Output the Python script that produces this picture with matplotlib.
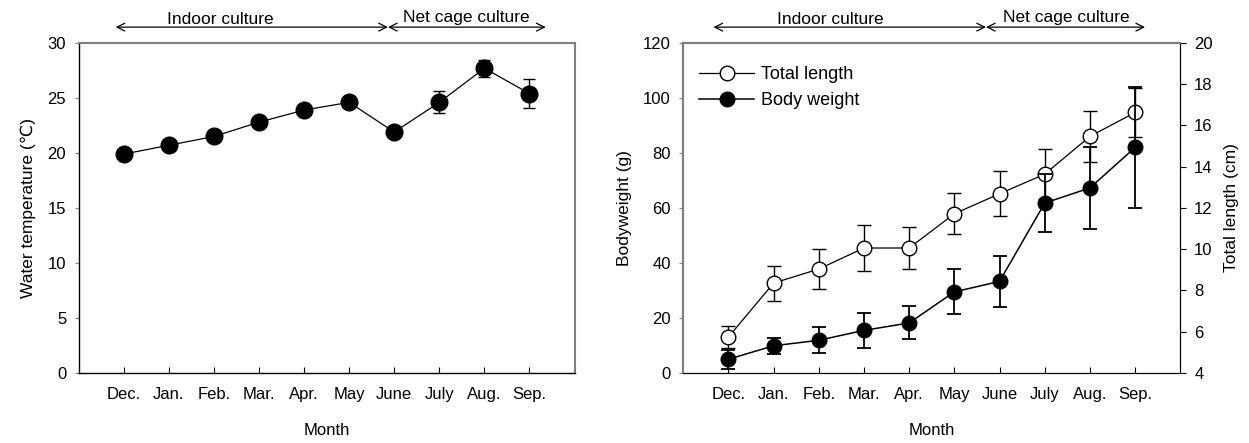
import matplotlib
matplotlib.use("Agg")
import matplotlib.pyplot as plt
from matplotlib.lines import Line2D
import numpy as np

plt.rcParams['font.family'] = ['Liberation Sans', 'DejaVu Sans']

months = ["Dec.", "Jan.", "Feb.", "Mar.", "Apr.", "May", "June", "July", "Aug.", "Sep."]
water_temp = [19.9, 20.7, 21.5, 22.8, 23.9, 24.6, 21.9, 24.6, 27.7, 25.4]
water_temp_err = [0.3, 0.3, 0.3, 0.3, 0.3, 0.3, 0.3, 1.0, 0.75, 1.3]

body_weight = [5.0, 9.9, 11.9, 15.5, 18.2, 29.5, 33.3, 61.8, 67.3, 82.0]
body_weight_err = [3.5, 2.9, 4.8, 6.4, 6.0, 8.2, 9.3, 10.5, 14.8, 22.0]
total_length = [5.74, 8.36, 9.04, 10.06, 10.06, 11.72, 12.69, 13.64, 15.47, 16.63]
total_length_err = [0.55, 0.85, 0.95, 1.1, 1.0, 1.0, 1.1, 1.2, 1.24, 1.2]

x = np.arange(len(months))
GRAY = "#7f7f7f"

fig = plt.figure(figsize=(12.49, 4.43), dpi=100)
ax1 = fig.add_axes([0.063, 0.158, 0.397, 0.745])
ax2 = fig.add_axes([0.547, 0.158, 0.398, 0.745])

# ---------------- Left panel ----------------
ax1.errorbar(x, water_temp, yerr=water_temp_err, fmt='-o', color='black',
             markersize=12, linewidth=0.9, elinewidth=1.0, capsize=4, capthick=1.0,
             markerfacecolor='black', markeredgecolor='black', zorder=3)
ax1.set_xlim(-1, 10)
ax1.set_ylim(0, 30)
ax1.set_yticks(np.arange(0, 31, 5))
ax1.set_xticks(x)
ax1.set_xticklabels(months)
ax1.set_ylabel("Water temperature (\u2103)", fontsize=12.5, labelpad=8)
ax1.set_xlabel("Month", fontsize=12, labelpad=15)
for s in ['top', 'right']:
    ax1.spines[s].set_color(GRAY)
    ax1.spines[s].set_linewidth(1.5)
for s in ['left', 'bottom']:
    ax1.spines[s].set_color('black')
    ax1.spines[s].set_linewidth(1.0)
ax1.tick_params(axis='x', direction='in', length=4, labelsize=12, pad=10, color='black')
ax1.tick_params(axis='y', direction='out', length=3, labelsize=12, pad=6, color=GRAY)

# ---------------- Right panel ----------------
ax3 = ax2.twinx()
ax2.errorbar(x, body_weight, yerr=body_weight_err, fmt='-o', color='black',
             markersize=10.5, linewidth=1.1, elinewidth=1.3, capsize=5, capthick=1.3,
             markerfacecolor='black', markeredgecolor='black', zorder=4)
ax3.errorbar(x, total_length, yerr=total_length_err, fmt='-o', color='black',
             markersize=10.5, linewidth=0.9, elinewidth=1.0, capsize=5, capthick=1.0,
             markerfacecolor='white', markeredgecolor='black', zorder=3)
ax2.set_zorder(ax3.get_zorder() + 1)
ax2.patch.set_visible(False)

ax2.set_xlim(-1, 10)
ax2.set_ylim(0, 120)
ax2.set_yticks(np.arange(0, 121, 20))
ax3.set_ylim(4, 20)
ax3.set_yticks(np.arange(4, 21, 2))
ax2.set_xticks(x)
ax2.set_xticklabels(months)
ax2.set_ylabel("Bodyweight (g)", fontsize=12.5, labelpad=8)
ax3.set_ylabel("Total length (cm)", fontsize=12.5, labelpad=8)
ax2.set_xlabel("Month", fontsize=12, labelpad=15)

for a in (ax2, ax3):
    a.spines['top'].set_color(GRAY)
    a.spines['top'].set_linewidth(1.5)
    a.spines['left'].set_color(GRAY)
    a.spines['left'].set_linewidth(1.5)
    a.spines['right'].set_color('black')
    a.spines['bottom'].set_color('black')
ax2.tick_params(axis='x', direction='in', length=4, labelsize=12, pad=10, color='black')
ax2.tick_params(axis='y', direction='out', length=3, labelsize=12, pad=6, color=GRAY)
ax3.tick_params(axis='y', direction='out', length=4, labelsize=12, pad=6, color='black')

handles = [
    Line2D([], [], color='black', lw=0.9, marker='o', markersize=10.5,
           markerfacecolor='white', markeredgecolor='black'),
    Line2D([], [], color='black', lw=1.1, marker='o', markersize=10.5,
           markerfacecolor='black', markeredgecolor='black'),
]
ax2.legend(handles, ["Total length", "Body weight"], loc='upper left',
           bbox_to_anchor=(0.0, 0.98), frameon=False, fontsize=13,
           handlelength=3.0, handletextpad=0.4, labelspacing=0.5)

# ---------------- Period arrows ----------------
def period_arrows(ax, x0, xm, x1, tx0, tx1):
    tr = ax.get_xaxis_transform()
    y = 1.048
    for a, b in ((x0, xm), (xm, x1)):
        ax.annotate("", xy=(a, y), xytext=(b, y), xycoords=tr, textcoords=tr,
                    arrowprops=dict(arrowstyle='<->', color='black', lw=0.9,
                                    shrinkA=0, shrinkB=0, mutation_scale=14),
                    annotation_clip=False)
    ax.text(tx0, y + 0.0, "Indoor culture", transform=tr, ha='center', va='bottom', fontsize=12.5)
    ax.text(tx1, y + 0.006, "Net cage culture", transform=tr, ha='center', va='bottom', fontsize=12.5)

period_arrows(ax1, -0.18, 5.86, 9.36, 2.15, 7.6)
period_arrows(ax2, -0.33, 5.7, 9.22, 2.26, 7.47)

fig.savefig("out.png", dpi=100)
